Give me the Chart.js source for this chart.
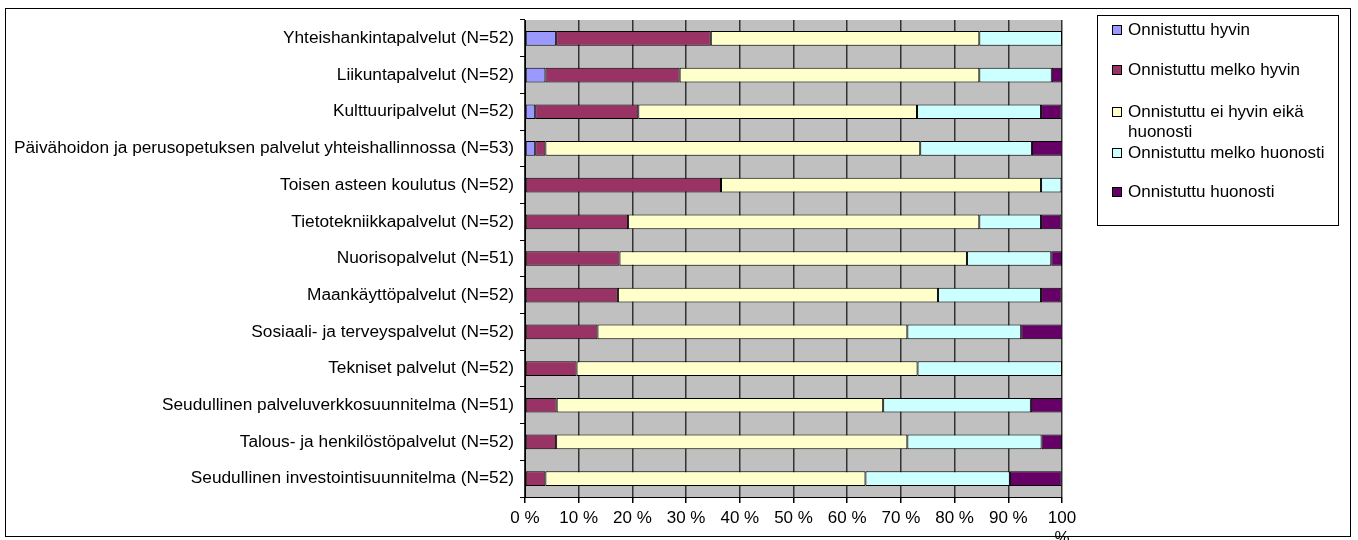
<!DOCTYPE html>
<html>
<head>
<meta charset="utf-8">
<script src="https://cdn.jsdelivr.net/npm/chart.js@4/dist/chart.umd.min.js"></script>
<style>
  body { margin: 0; background: #fff; font-family: "Liberation Sans", Arial, sans-serif; }
  #wrap { position: relative; width: 1358px; height: 540px; }
  #frame { position: absolute; left: 5px; top: 8px; width: 1346px; height: 529px; border: 1px solid #000; box-sizing: border-box; pointer-events: none; }
  #legend { position: absolute; left: 1097px; top: 15px; width: 242px; height: 211px; border: 1px solid #000; box-sizing: border-box; background: #fff; font-size: 17px; color: #000; }
  .item { position: absolute; left: 14px; line-height: 20px; }
  .box { position: absolute; left: 0; top: 5px; width: 8px; height: 8px; border: 1px solid #000; }
  .txt { margin-left: 16px; width: 215px; white-space: nowrap; }
</style>
</head>
<body>
<div id="wrap">
  <canvas id="myChart" width="1358" height="540"></canvas>
  <div id="frame"></div>
  <div id="legend"></div>
</div>
<script>
// categories (top to bottom)
const categories = [
  'Yhteishankintapalvelut (N=52)',
  'Liikuntapalvelut (N=52)',
  'Kulttuuripalvelut (N=52)',
  'Päivähoidon ja perusopetuksen palvelut yhteishallinnossa (N=53)',
  'Toisen asteen koulutus (N=52)',
  'Tietotekniikkapalvelut (N=52)',
  'Nuorisopalvelut (N=51)',
  'Maankäyttöpalvelut (N=52)',
  'Sosiaali- ja terveyspalvelut (N=52)',
  'Tekniset palvelut (N=52)',
  'Seudullinen palveluverkkosuunnitelma (N=51)',
  'Talous- ja henkilöstöpalvelut (N=52)',
  'Seudullinen investointisuunnitelma (N=52)'
];

// shares in percent
const hyvin         = [5.8, 3.8, 1.9, 1.9, 0, 0, 0, 0, 0, 0, 0, 0, 0];
const melkoHyvin    = [28.8, 25.0, 19.2, 1.9, 36.5, 19.2, 17.6, 17.3, 13.5, 9.6, 5.9, 5.8, 3.8];
const eiHyvinEika   = [50.0, 55.8, 51.9, 69.8, 59.6, 65.4, 64.7, 59.6, 57.7, 63.5, 60.8, 65.4, 59.6];
const melkoHuonosti = [15.4, 13.5, 23.1, 20.8, 3.8, 11.5, 15.7, 19.2, 21.2, 26.9, 27.5, 25.0, 26.9];
const huonosti      = [0, 1.9, 3.8, 5.7, 0, 3.8, 2.0, 3.8, 7.7, 0, 5.9, 3.8, 9.6];

const seriesNames = [
  'Onnistuttu hyvin',
  'Onnistuttu melko hyvin',
  'Onnistuttu ei hyvin eikä huonosti',
  'Onnistuttu melko huonosti',
  'Onnistuttu huonosti'
];
const seriesData = [hyvin, melkoHyvin, eiHyvinEika, melkoHuonosti, huonosti];
const colors = ['#9999FF', '#993366', '#FFFFCC', '#CCFFFF', '#660066'];

const xTicks = [0, 10, 20, 30, 40, 50, 60, 70, 80, 90, 100];

const fontFamily = '"Liberation Sans", Arial, sans-serif';

// gray plot background
const plotBg = {
  id: 'plotBg',
  beforeDraw(chart) {
    const a = chart.chartArea;
    const ctx = chart.ctx;
    ctx.save();
    ctx.fillStyle = '#C0C0C0';
    ctx.fillRect(a.left, a.top, a.right - a.left, a.bottom - a.top);
    ctx.restore();
  }
};

const ctx = document.getElementById('myChart').getContext('2d');
const myChart = new Chart(ctx, {
  type: 'bar',
  data: {
    labels: categories,
    datasets: seriesNames.map((name, i) => ({
      label: name,
      data: seriesData[i],
      backgroundColor: colors[i],
      borderColor: '#000',
      borderWidth: 1,
      borderSkipped: false,
      barPercentage: 0.4,
      categoryPercentage: 1
    }))
  },
  options: {
    indexAxis: 'y',
    responsive: false,
    animation: false,
    layout: { padding: { top: 20, right: 296, left: 0, bottom: 0 } },
    plugins: {
      legend: { display: false },
      tooltip: { enabled: false }
    },
    scales: {
      x: {
        stacked: true,
        min: 0,
        max: 100,
        afterBuildTicks(scale) {
          scale.ticks = xTicks.map(v => ({ value: v }));
        },
        afterFit(scale) { scale.height = 43; },
        ticks: {
          color: '#000',
          font: { family: fontFamily, size: 17 },
          padding: 5,
          maxRotation: 0,
          callback: v => v === 100 ? ['100', '%'] : v + ' %'
        },
        grid: { color: '#333', lineWidth: 1.5, tickLength: 6, tickColor: '#000' },
        border: { color: '#000', width: 1 }
      },
      y: {
        stacked: true,
        afterFit(scale) { scale.width = 525; },
        ticks: { color: '#000', font: { family: fontFamily, size: 17.3 }, padding: 6, autoSkip: false },
        grid: { drawOnChartArea: false, tickLength: 5, tickColor: '#000', offset: true },
        border: { color: '#000', width: 1 }
      }
    }
  },
  plugins: [plotBg]
});

// legend box
const legend = document.getElementById('legend');
const itemTops = [4, 44, 86, 127, 166];
seriesNames.forEach((name, i) => {
  const item = document.createElement('div');
  item.className = 'item';
  item.style.top = itemTops[i] + 'px';
  item.innerHTML = '<div class="box" style="background:' + colors[i] + '"></div>' +
    '<div class="txt">' + (i === 2 ? 'Onnistuttu ei hyvin eikä<br>huonosti' : name) + '</div>';
  legend.appendChild(item);
});
</script>
</body>
</html>
